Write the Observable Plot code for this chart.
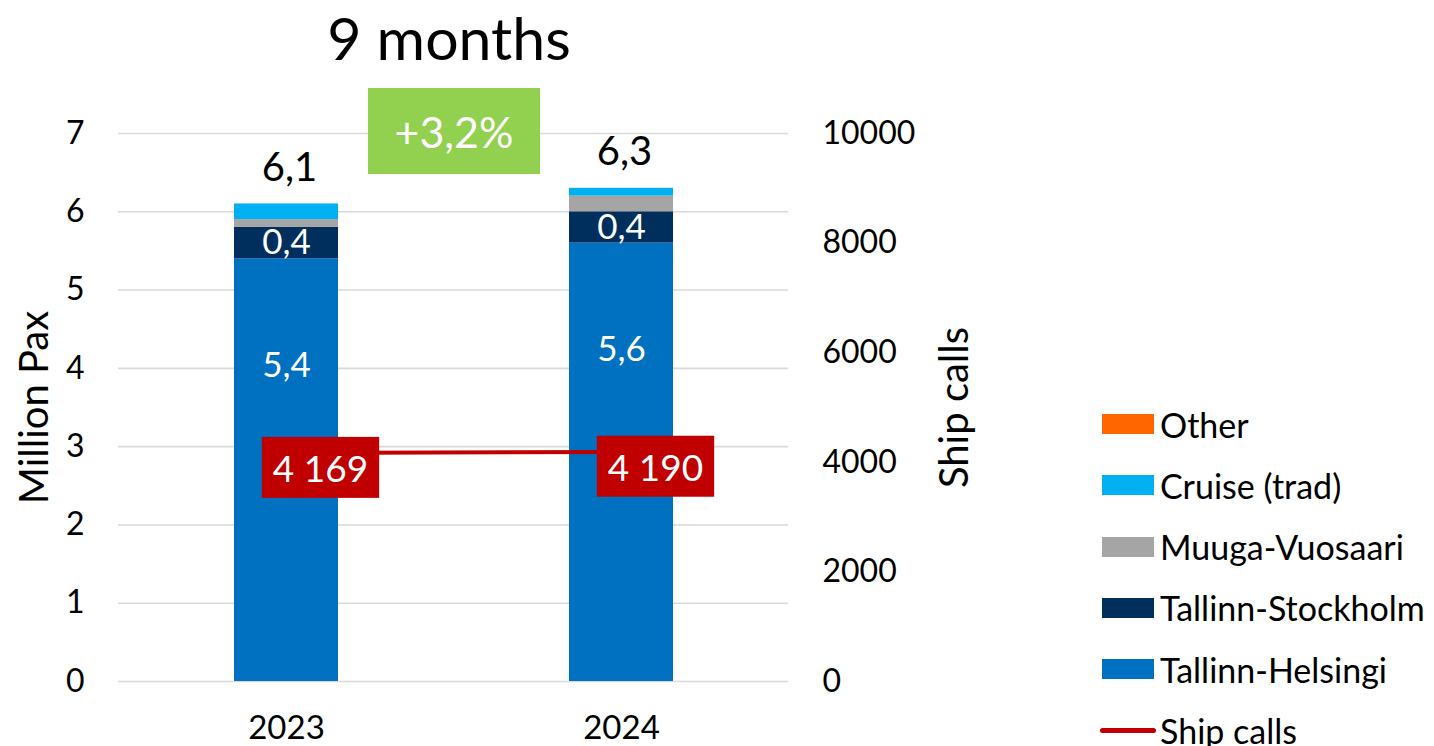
<!DOCTYPE html>
<html>
<head>
<meta charset="utf-8">
<script src="https://cdn.jsdelivr.net/npm/d3@7"></script>
<script src="https://cdn.jsdelivr.net/npm/@observablehq/plot@0.6"></script>
<style>
  html, body { margin: 0; padding: 0; background: #fff; }
  #wrap { position: relative; width: 1434px; height: 746px; overflow: hidden; font-family: Lato, "Open Sans", sans-serif; }
  #wrap svg { position: absolute; left: 0; top: 0; }
  #title { position: absolute; left: 249px; width: 400px; top: -2px; line-height: 80px; text-align: center; font-size: 59px; color: #000; }
  #badge { position: absolute; left: 368px; top: 88px; width: 172px; height: 86px; background: #92D050; color: #fff; font-size: 43px; display: flex; align-items: center; justify-content: center; }
  #legend { position: absolute; left: 1100px; top: 393px; }
  .lrow { position: absolute; left: 0; height: 40px; display: flex; align-items: center; white-space: nowrap; font-size: 34px; color: #000; }
  .sw { width: 52px; height: 20px; margin-left: 2px; margin-right: 6px; }
  .ln { width: 56px; height: 5px; border-radius: 3px; margin-right: 4px; }
</style>
</head>
<body>
<div id="wrap">
  <div id="title"></div>
  <div id="badge"></div>
  <div id="legend"></div>
</div>
<script>
// ---- data ----
const years = ["2023", "2024"];
const seriesNames = ["Tallinn-Helsingi", "Tallinn-Stockholm", "Muuga-Vuosaari", "Cruise (trad)", "Other"];
const seriesColors = ["#0070C0", "#002F5E", "#A5A5A5", "#00B0F0", "#FF6600"];
const helsinki = [5.4, 5.6];
const stockholm = [0.4, 0.4];
const muuga = [0.1, 0.2];
const cruise = [0.2, 0.1];
const other = [0, 0];
const totals = [6.1, 6.3];
const shipCalls = [4169, 4190];
const leftTicks = [0, 1, 2, 3, 4, 5, 6, 7];
const rightTicks = [0, 2000, 4000, 6000, 8000, 10000];
const titleText = "9 months";
const growthLabel = "+3,2%";
const lineColor = "#C00000";
const legendOrder = ["Other", "Cruise (trad)", "Muuga-Vuosaari", "Tallinn-Stockholm", "Tallinn-Helsingi", "Ship calls"];

// ---- build ----
const seriesValues = [helsinki, stockholm, muuga, cruise, other];
const rows = [];
seriesNames.forEach((s, i) => years.forEach((y, j) => rows.push({ year: y, series: s, value: seriesValues[i][j] })));
const comma = v => v.toFixed(1).replace(".", ",");
const spaced = v => String(v).replace(/\B(?=(\d{3})+(?!\d))/g, " ");

const W = 1434, H = 746;
const margins = { marginTop: 133, marginBottom: 65, marginLeft: 118, marginRight: 646 };
const xOpts = { domain: years, paddingInner: 0.69, paddingOuter: 0.345 };
const font = "Lato, 'Open Sans', sans-serif";

const helsLabels = years.map((y, j) => ({ year: y, top: helsinki[j], text: comma(helsinki[j]) }));
const stockLabels = years.map((y, j) => ({ year: y, mid: helsinki[j] + stockholm[j] / 2, text: comma(stockholm[j]) }));
const totalLabels = years.map((y, j) => ({ year: y, total: totals[j], text: comma(totals[j]) }));

const p1 = Plot.plot({
  width: W, height: H, ...margins,
  style: { fontFamily: font, background: "transparent", overflow: "visible" },
  x: { ...xOpts, axis: null },
  y: { domain: [0, 7], axis: null },
  color: { domain: seriesNames, range: seriesColors },
  marks: [
    Plot.gridY(leftTicks, { stroke: "#D9D9D9", strokeOpacity: 1, strokeWidth: 1.6 }),
    Plot.barY(rows, { x: "year", y: "value", fill: "series", order: seriesNames, inset: 0 }),
    Plot.axisY(leftTicks, { anchor: "left", tickSize: 0, tickPadding: 34, fontSize: 32, label: null, tickFormat: d => String(d) }),
    Plot.axisX({ anchor: "bottom", tickSize: 0, tickPadding: 34, fontSize: 33, label: null }),
    Plot.text(helsLabels, { x: "year", y: "top", text: "text", dy: 107, fill: "white", fontSize: 35 }),
    Plot.text(stockLabels, { x: "year", y: "mid", text: "text", fill: "white", fontSize: 35 }),
    Plot.text(totalLabels, { x: "year", y: "total", text: "text", dy: -36, dx: 3, fill: "black", fontSize: 40 }),
    Plot.text(["Million Pax"], { frameAnchor: "left", textAnchor: "middle", dx: -83, rotate: -90, fontSize: 40, fill: "black" })
  ]
});

const shipRows = years.map((y, j) => ({ year: y, calls: shipCalls[j], text: spaced(shipCalls[j]) }));
const shipTexts = shipRows.map(d => d.text);
const p2 = Plot.plot({
  width: W, height: H, ...margins,
  style: { fontFamily: font, background: "transparent", overflow: "visible" },
  x: { ...xOpts, axis: null },
  y: { domain: [0, 10000], axis: null },
  marks: [
    Plot.line(shipRows, { x: "year", y: "calls", stroke: lineColor, strokeWidth: 4 }),
    Plot.text(shipRows, { x: "year", y: "calls", text: "text", dx: 34, dy: 17, fill: "white", fontSize: 37 }),
    Plot.axisY(rightTicks, { anchor: "right", tickSize: 0, tickPadding: 34, fontSize: 32, label: null, tickFormat: d => String(d) }),
    Plot.text(["Ship calls"], { frameAnchor: "right", textAnchor: "middle", dx: 167, rotate: -90, fontSize: 40, fill: "black" })
  ]
});

const wrap = document.getElementById("wrap");
wrap.insertBefore(p1, wrap.firstChild);
wrap.insertBefore(p2, p1.nextSibling);

// red label boxes behind the ship-call labels
p2.querySelectorAll("text").forEach(t => {
  if (!shipTexts.includes(t.textContent)) return;
  const b = t.getBBox();
  const r = document.createElementNS("http://www.w3.org/2000/svg", "rect");
  const w = b.width + 22, h = 61;
  r.setAttribute("x", b.x + b.width / 2 - w / 2);
  r.setAttribute("y", b.y + b.height / 2 - h / 2);
  r.setAttribute("width", w);
  r.setAttribute("height", h);
  r.setAttribute("fill", lineColor);
  if (t.getAttribute("transform")) r.setAttribute("transform", t.getAttribute("transform"));
  t.parentNode.insertBefore(r, t);
});

document.getElementById("title").textContent = titleText;
document.getElementById("badge").textContent = growthLabel;

const legend = document.getElementById("legend");
legendOrder.forEach((name, i) => {
  const row = document.createElement("div");
  row.className = "lrow";
  row.style.top = (i * 61.3 + 11) + "px";
  const sw = document.createElement("div");
  if (name === "Ship calls") {
    sw.className = "ln";
    sw.style.background = lineColor;
  } else {
    sw.className = "sw";
    sw.style.background = seriesColors[seriesNames.indexOf(name)];
  }
  const tx = document.createElement("span");
  tx.textContent = name;
  row.appendChild(sw);
  row.appendChild(tx);
  legend.appendChild(row);
});
</script>
</body>
</html>
